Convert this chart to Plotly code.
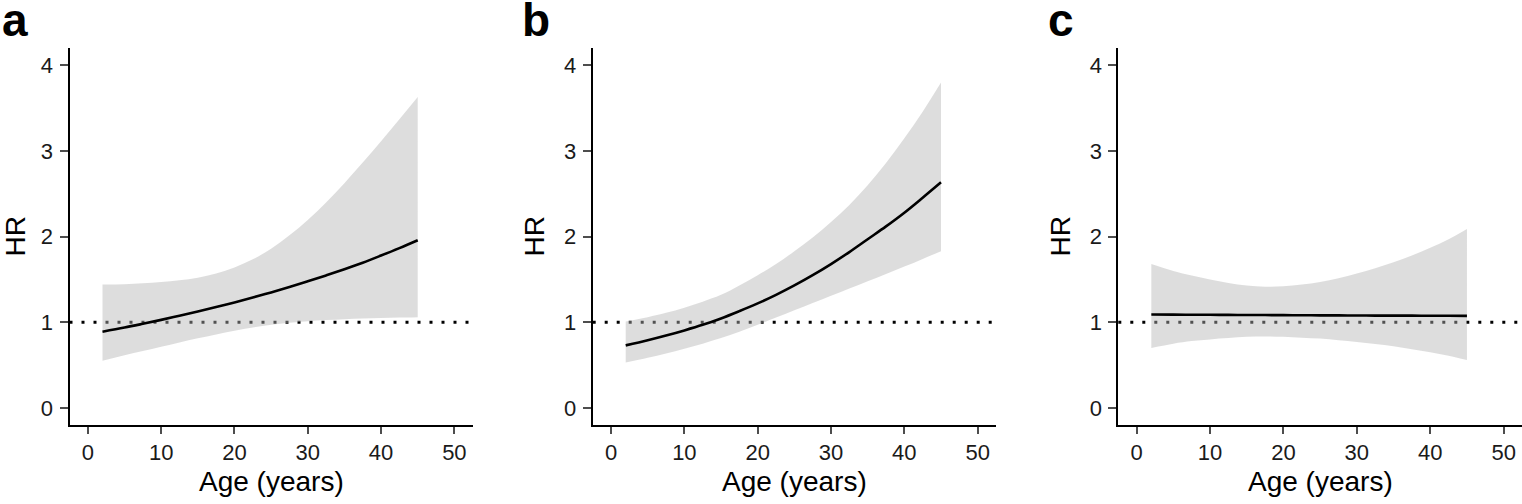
import plotly.graph_objects as go

# ---------------- data ----------------
age = [2, 5, 7.5, 10, 12.5, 15, 17.5, 20, 22.5, 25, 27.5, 30, 32.5, 35, 37.5, 40, 42.5, 45]

hr_a = [0.89, 0.938, 0.982, 1.028, 1.076, 1.126, 1.178, 1.232, 1.289, 1.349, 1.412, 1.478, 1.547, 1.619, 1.695, 1.779, 1.866, 1.958]
upper_a = [1.44, 1.445, 1.455, 1.47, 1.49, 1.52, 1.57, 1.64, 1.735, 1.86, 2.015, 2.195, 2.40, 2.625, 2.865, 3.115, 3.37, 3.63]
lower_a = [0.55, 0.615, 0.665, 0.715, 0.765, 0.813, 0.858, 0.90, 0.938, 0.97, 0.995, 1.013, 1.026, 1.036, 1.044, 1.05, 1.055, 1.06]

hr_b = [0.73, 0.79, 0.845, 0.905, 0.97, 1.045, 1.13, 1.22, 1.32, 1.43, 1.55, 1.68, 1.82, 1.97, 2.12, 2.28, 2.455, 2.635]
upper_b = [1.01, 1.06, 1.11, 1.17, 1.24, 1.32, 1.43, 1.55, 1.68, 1.83, 1.99, 2.17, 2.37, 2.60, 2.86, 3.15, 3.46, 3.80]
lower_b = [0.53, 0.585, 0.635, 0.69, 0.75, 0.815, 0.89, 0.97, 1.055, 1.14, 1.225, 1.31, 1.395, 1.48, 1.565, 1.65, 1.74, 1.83]

hr_c = [1.09, 1.089, 1.088, 1.087, 1.086, 1.085, 1.084, 1.083, 1.082, 1.081, 1.08, 1.079, 1.078, 1.078, 1.077, 1.076, 1.076, 1.075]
upper_c = [1.68, 1.60, 1.545, 1.50, 1.46, 1.43, 1.415, 1.42, 1.44, 1.47, 1.515, 1.57, 1.63, 1.70, 1.78, 1.87, 1.97, 2.09]
lower_c = [0.70, 0.75, 0.78, 0.80, 0.815, 0.83, 0.835, 0.83, 0.82, 0.81, 0.79, 0.77, 0.745, 0.72, 0.685, 0.65, 0.61, 0.56]

panel_labels = ["a", "b", "c"]
x_ticks = [0, 10, 20, 30, 40, 50]
y_ticks = [0, 1, 2, 3, 4]
ref_hr = 1
x_title = "Age (years)"
y_title = "HR"

panels = [
    (hr_a, upper_a, lower_a),
    (hr_b, upper_b, lower_b),
    (hr_c, upper_c, lower_c),
]

# ---------------- layout geometry ----------------
W, H = 1522, 504
x_dom_px = [(69.5, 472.7), (592.7, 996.0), (1118.3, 1522.0)]
y_dom_px = (48.3, 425.0)
letter_x_px = [0, 520, 1046]
ytitle_x_px = [15, 534, 1060]

FONT = "Liberation Sans, Arial, Helvetica, sans-serif"
RIBBON = "rgba(179,179,179,0.45)"

fig = go.Figure()

y_dom = [(H - y_dom_px[1]) / H, (H - y_dom_px[0]) / H]

layout_axes = {}
for i, (hr, up, lo) in enumerate(panels):
    n = "" if i == 0 else str(i + 1)
    xa, ya = "x" + n, "y" + n
    fig.add_trace(go.Scatter(x=age, y=up, mode="lines", line=dict(width=0, shape="spline", smoothing=1),
                             showlegend=False, hoverinfo="skip", xaxis=xa, yaxis=ya))
    fig.add_trace(go.Scatter(x=age, y=lo, mode="lines", line=dict(width=0, shape="spline", smoothing=1),
                             fill="tonexty", fillcolor=RIBBON,
                             showlegend=False, hoverinfo="skip", xaxis=xa, yaxis=ya))
    fig.add_trace(go.Scatter(x=age, y=hr, mode="lines",
                             line=dict(color="black", width=2.6, shape="spline", smoothing=1),
                             showlegend=False, xaxis=xa, yaxis=ya))

    x0p, x1p = x_dom_px[i]
    xd = [x0p / W, x1p / W]
    layout_axes["xaxis" + n] = dict(
        domain=xd, range=[-2.5, 52.5], anchor=ya, automargin=False,
        tickvals=x_ticks, ticktext=[str(v) for v in x_ticks],
        ticks="outside", ticklen=7, tickwidth=1.5, tickcolor="#4d4d4d",
        showline=True, linecolor="black", linewidth=2,
        showgrid=False, zeroline=False,
        tickfont=dict(family=FONT, size=22, color="#1a1a1a"),
        ticklabelstandoff=0,
    )
    layout_axes["yaxis" + n] = dict(
        domain=y_dom, range=[-0.2, 4.2], anchor=xa, automargin=False,
        tickvals=y_ticks, ticktext=[str(v) for v in y_ticks],
        ticks="outside", ticklen=8, tickwidth=1.5, tickcolor="#4d4d4d",
        showline=True, linecolor="black", linewidth=2,
        showgrid=False, zeroline=False,
        tickfont=dict(family=FONT, size=22, color="#1a1a1a"),
        ticklabelstandoff=2,
    )

    # reference line HR = 1
    fig.add_shape(type="line", xref=xa + " domain", yref=ya, x0=0, x1=1, y0=ref_hr, y1=ref_hr,
                  line=dict(color="black", width=3, dash="3px,9px"), layer="below")

    # panel letter
    fig.add_annotation(text="<b>" + panel_labels[i] + "</b>", xref="paper", yref="paper",
                       x=letter_x_px[i] / W, y=1, xanchor="left", yanchor="top",
                       showarrow=False, font=dict(family=FONT, size=46, color="black"),
                       yshift=8)
    # y title
    fig.add_annotation(text=y_title, xref="paper", yref="paper",
                       x=ytitle_x_px[i] / W, y=(H - 236.5) / H, xanchor="center", yanchor="middle",
                       textangle=-90, showarrow=False,
                       font=dict(family=FONT, size=28, color="black"))
    # x title
    fig.add_annotation(text=x_title, xref="paper", yref="paper",
                       x=(xd[0] + xd[1]) / 2, y=(H - 481) / H, xanchor="center", yanchor="middle",
                       showarrow=False, font=dict(family=FONT, size=28, color="black"))

fig.update_layout(
    width=W, height=H,
    margin=dict(l=0, r=0, t=0, b=0, autoexpand=False),
    paper_bgcolor="white", plot_bgcolor="white",
    showlegend=False,
    **layout_axes,
)

fig.write_html(
    "out.html",
    config={"displayModeBar": False},
    post_script="document.body.style.margin='0';document.body.style.padding='0';"
                "document.body.style.overflow='hidden';",
)
